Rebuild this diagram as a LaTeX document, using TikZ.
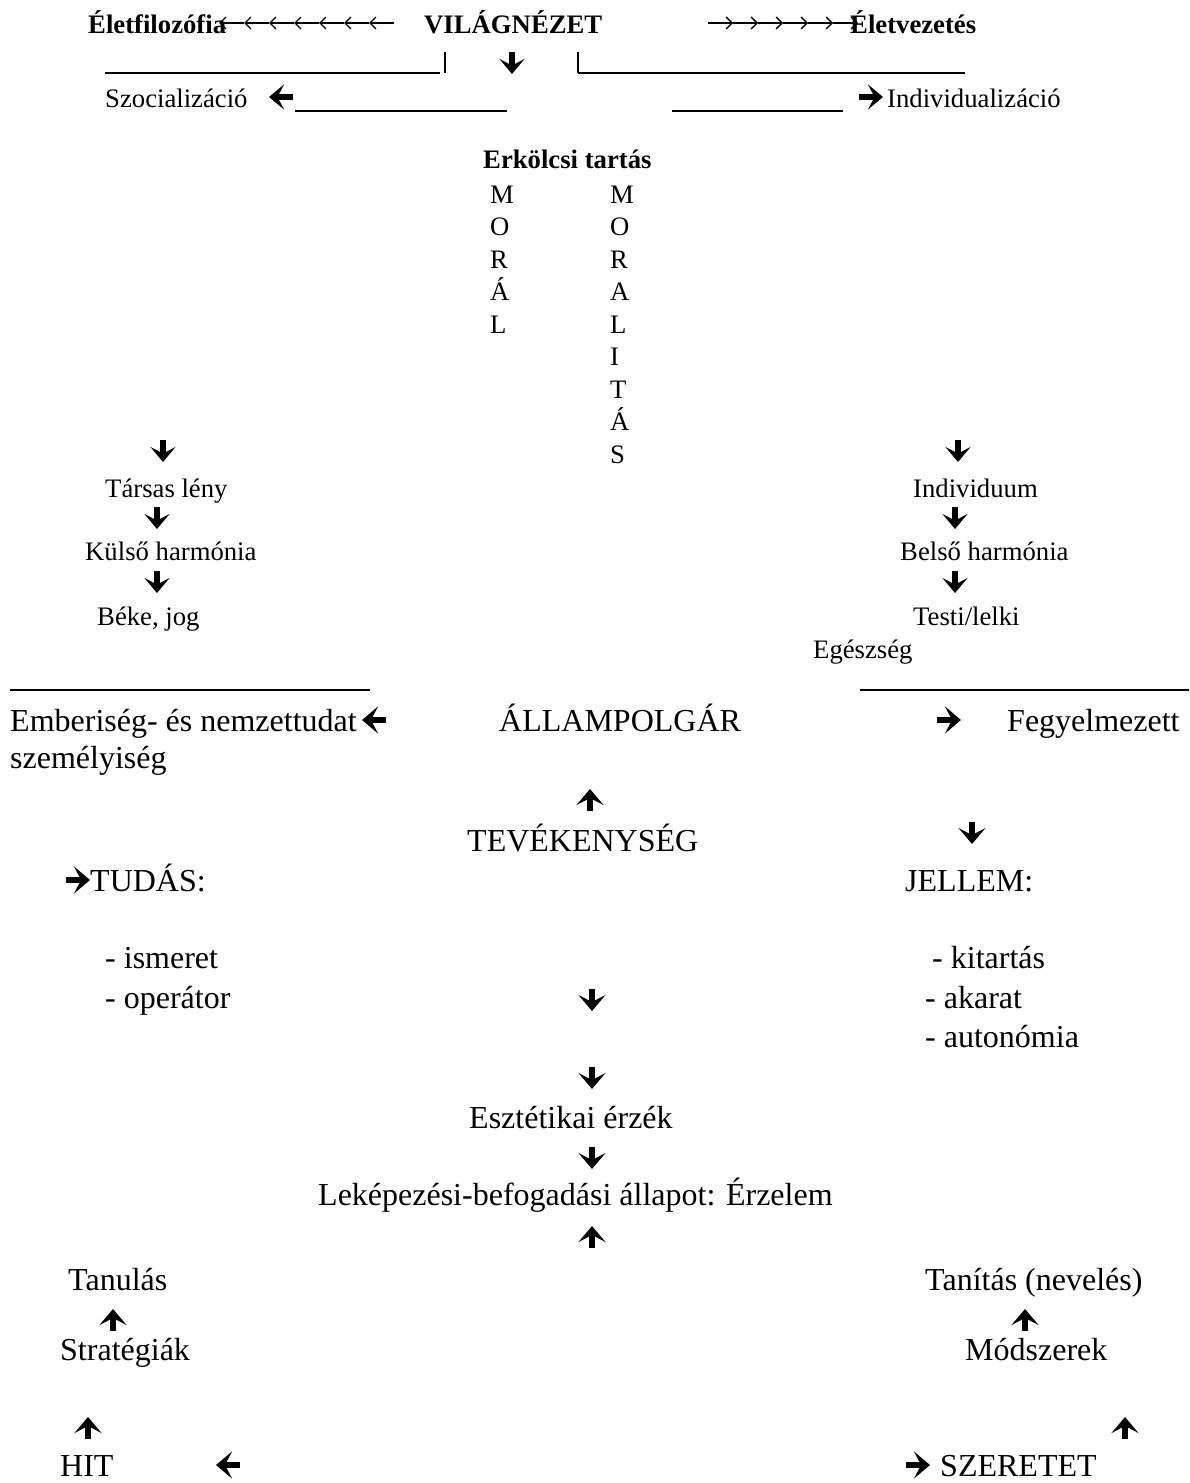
\documentclass[tikz,border=0pt]{standalone}
\usepackage{fontspec}
\setmainfont{Liberation Serif}
\usetikzlibrary{arrows.meta}
\tikzset{
  sm/.style={font=\fontsize{26.7}{30}\selectfont, anchor=base west, inner sep=0pt},
  smb/.style={font=\fontsize{26.7}{30}\selectfont\bfseries, anchor=base west, inner sep=0pt},
  bg/.style={font=\fontsize{32}{37}\selectfont, anchor=base west, inner sep=0pt},
  hv/.style={line width=6pt, -{Stealth[length=15pt,width=25pt,inset=6.5pt]}},
  hvb/.style={line width=6.5pt, -{Stealth[length=16pt,width=27pt,inset=7pt]}},
  thinar/.style={line width=1.3pt, -{Straight Barb[length=6pt,width=12pt]}},
  uline/.style={line width=1.4pt},
}
\newcommand\hdn[3]{\draw[#3] (#1,#2-11) -- (#1,#2+11);}
\newcommand\hup[3]{\draw[#3] (#1,#2+11) -- (#1,#2-11);}
\newcommand\hlf[3]{\draw[#3] (#1+12,#2) -- (#1-12,#2);}
\newcommand\hrt[3]{\draw[#3] (#1-12,#2) -- (#1+12,#2);}
\begin{document}
\begin{tikzpicture}[x=1pt,y=-1pt]
\useasboundingbox[fill=white] (0,0) rectangle (1189,1483);

% Row 1
\node[smb] (elf) at (88,33) {Életfilozófia};
\node[smb] (vil) at (424,33) {VILÁGNÉZET};
\node[smb] (elv) at (850,33) {Életvezetés};
\foreach \i in {0,...,6} \draw[thinar] (219+25*\i+25,23) -- (219+25*\i,23);
\foreach \i in {0,...,5} \draw[thinar] (708+25*\i,23) -- (733+25*\i,23);

% Row 2
\draw[uline] (105,73) -- (440,73);
\draw[uline] (445,52) -- (445,73);
\hdn{512}{63}{hv}
\draw[uline] (578,52) -- (578,73);
\draw[uline] (578,73) -- (965,73);

% Row 3
\node[sm] (szoc) at (105,107) {Szocializáció};
\hlf{281}{97}{hv}
\draw[uline] (295,111) -- (507,111);
\draw[uline] (672,111) -- (843,111);
\hrt{871}{97}{hv}
\node[sm] (indv) at (887,107) {Individualizáció};

% Erkolcsi tartas
\node[smb] (erk) at (483,168) {Erkölcsi tartás};
\foreach \l [count=\k from 0] in {M,O,R,Á,L}
  \node[sm] (m\k) at (490,203+32.5*\k) {\l};
\foreach \l [count=\k from 0] in {M,O,R,A,L,I,T,Á,S}
  \node[sm] (ml\k) at (610,203+32.5*\k) {\l};

% Left tree
\hdn{163}{451}{hv}
\node[sm] (tars) at (105,497) {Társas lény};
\hdn{157}{518}{hv}
\node[sm] (kuls) at (85,560) {Külső harmónia};
\hdn{157}{582}{hv}
\node[sm] (beke) at (97,625) {Béke, jog};

% Right tree
\hdn{958}{451}{hv}
\node[sm] (ind) at (913,497) {Individuum};
\hdn{955}{518}{hv}
\node[sm] (bels) at (900,560) {Belső harmónia};
\hdn{955}{582}{hv}
\node[sm] (test) at (913,625) {Testi/lelki};
\node[sm] (egesz) at (813,658) {Egészség};

% Allampolgar row
\draw[uline] (10,690) -- (370,690);
\draw[uline] (860,690) -- (1189,690);
\node[bg] (emb) at (10,731) {Emberiség- és nemzettudat};
\hlf{374}{720}{hvb}
\node[bg] (szem) at (10,768) {személyiség};
\node[bg] (allam) at (499,731) {ÁLLAMPOLGÁR};
\hrt{949}{720}{hvb}
\node[bg] (fegy) at (1007,731) {Fegyelmezett};

% Tevekenyseg
\hup{590}{800}{hvb}
\node[bg] (tev) at (467,851) {TEVÉKENYSÉG};
\hdn{972}{833}{hvb}
\hrt{78}{880}{hvb}
\node[bg] (tud) at (90,891) {TUDÁS:};
\node[bg] (jell) at (905,891) {JELLEM:};
\node[bg] (ism) at (105,968) {- ismeret};
\node[bg] (op) at (105,1008) {- operátor};
\hdn{592}{1000}{hvb}
\node[bg] (kit) at (932,968) {- kitartás};
\node[bg] (aka) at (925,1008) {- akarat};
\node[bg] (aut) at (925,1047) {- autonómia};

% Center chain
\hdn{592}{1078}{hvb}
\node[bg] (esz) at (469,1128) {Esztétikai érzék};
\hdn{592}{1158}{hvb}
\node[bg] (lek) at (318,1205) {Leképezési-befogadási állapot: Érzelem};
\hup{592}{1237}{hvb}

% Bottom
\node[bg] (tan) at (68,1290) {Tanulás};
\node[bg] (tanit) at (925,1290) {Tanítás (nevelés)};
\hup{113}{1320}{hvb}
\hup{1025}{1320}{hvb}
\node[bg] (strat) at (60,1360) {Stratégiák};
\node[bg] (mod) at (965,1360) {Módszerek};
\hup{88}{1428}{hvb}
\hup{1125}{1428}{hvb}
\node[bg] (hit) at (60,1476) {HIT};
\hlf{228}{1465}{hvb}
\hrt{918}{1465}{hvb}
\node[bg] (szer) at (940,1476) {SZERETET};
\end{tikzpicture}
\end{document}
